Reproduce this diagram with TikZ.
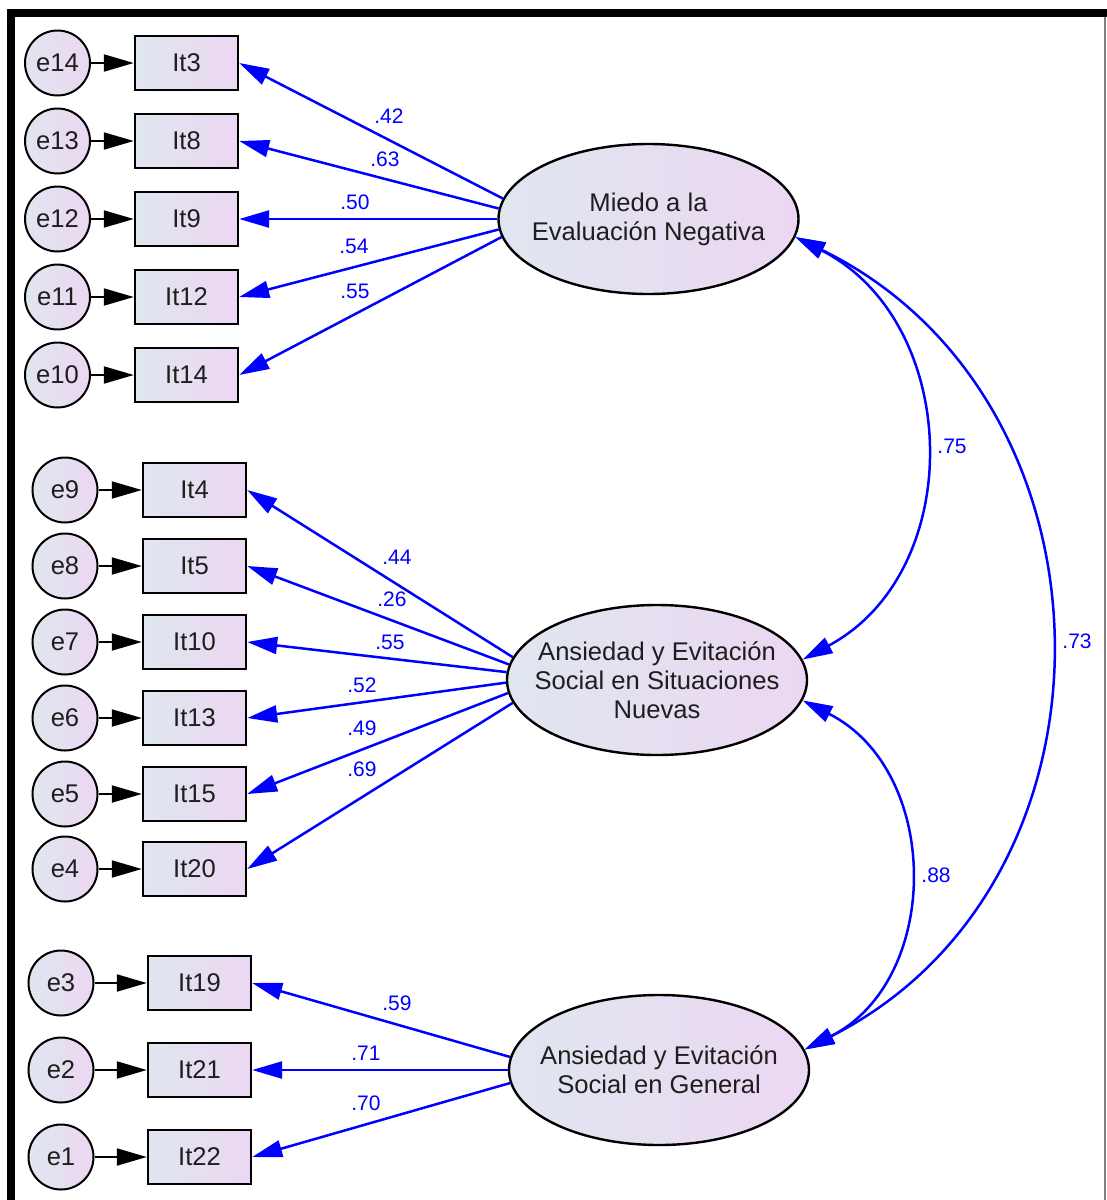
\documentclass[tikz,border=0pt]{standalone}
\usepackage{fontspec}
\setmainfont{Liberation Sans}
\usepackage{tikz}
\usetikzlibrary{arrows.meta,shapes.geometric}
\usepackage{xcolor}
\definecolor{shadeL}{RGB}{224,230,239}
\definecolor{shadeR}{RGB}{236,215,242}
\definecolor{txtgray}{RGB}{30,30,30}

\begin{document}
\begin{tikzpicture}[x=0.5pt, y=-0.5pt,
    obs/.style={draw, line width=1.2pt, left color=shadeL, right color=shadeR,
                minimum width=51.5pt, minimum height=27pt, inner sep=0pt,
                font=\fontsize{12.8}{14}\selectfont, text=txtgray},
    err/.style={draw, circle, line width=1pt, left color=shadeL, right color=shadeR,
                minimum size=32.5pt, inner sep=0pt,
                font=\fontsize{12.8}{14}\selectfont, text=txtgray},
    latent/.style={draw, ellipse, line width=1.2pt, left color=shadeL, right color=shadeR,
                minimum width=150pt, minimum height=75pt, inner sep=0pt},
    lattext/.style={align=center, font=\fontsize{12.8}{14.5}\selectfont, text=txtgray},
    coef/.style={text=blue, font=\fontsize{10.5}{12}\selectfont, inner sep=0pt},
    load/.style={-{Triangle[length=15pt,width=8.5pt]}, blue, line width=1.25pt},
    errarrow/.style={-{Triangle[length=15pt,width=8.5pt]}, black, line width=1pt},
    cov/.style={{Triangle[length=15pt,width=8.5pt]}-{Triangle[length=15pt,width=8.5pt]},
                blue, line width=1.25pt}
  ]
    \useasboundingbox (0,0) rectangle (1107,1200);

    % Frame
    \draw[line width=4pt] (11,1200) -- (11,13) -- (1107,13);
    \draw[gray, line width=0.8pt] (1105,17) -- (1105,1200);

    % Latent factors
    \node[latent] (F1) at (648.5,219) {};
    \node[lattext] (F1t) at (F1) {Miedo a la\\Evaluación Negativa};
    \node[latent] (F2) at (657,680) {};
    \node[lattext] (F2t) at (F2) {Ansiedad y Evitación\\Social en Situaciones\\Nuevas};
    \node[latent] (F3) at (659,1070) {};
    \node[lattext] (F3t) at (F3) {Ansiedad y Evitación\\Social en General};

    % Items, first factor
    \node[obs] (It3) at (186.5,63) {It3};
    \node[obs] (It8) at (186.5,141) {It8};
    \node[obs] (It9) at (186.5,219) {It9};
    \node[obs] (It12) at (186.5,297) {It12};
    \node[obs] (It14) at (186.5,375) {It14};
    \node[err] (e14) at (57.5,63) {e14};
    \node[err] (e13) at (57.5,141) {e13};
    \node[err] (e12) at (57.5,219) {e12};
    \node[err] (e11) at (57.5,297) {e11};
    \node[err] (e10) at (57.5,375) {e10};

    % Items, second factor
    \node[obs] (It4) at (194.5,490) {It4};
    \node[obs] (It5) at (194.5,566) {It5};
    \node[obs] (It10) at (194.5,642) {It10};
    \node[obs] (It13) at (194.5,718) {It13};
    \node[obs] (It15) at (194.5,794) {It15};
    \node[obs] (It20) at (194.5,869) {It20};
    \node[err] (e9) at (65,490) {e9};
    \node[err] (e8) at (65,566) {e8};
    \node[err] (e7) at (65,642) {e7};
    \node[err] (e6) at (65,718) {e6};
    \node[err] (e5) at (65,794) {e5};
    \node[err] (e4) at (65,869) {e4};

    % Items, third factor
    \node[obs] (It19) at (199.5,983) {It19};
    \node[obs] (It21) at (199.5,1070) {It21};
    \node[obs] (It22) at (199.5,1157) {It22};
    \node[err] (e3) at (61,983) {e3};
    \node[err] (e2) at (61,1070) {e2};
    \node[err] (e1) at (61,1157) {e1};

    % Error arrows
    \draw[errarrow] (e14) -- (It3);
    \draw[errarrow] (e13) -- (It8);
    \draw[errarrow] (e12) -- (It9);
    \draw[errarrow] (e11) -- (It12);
    \draw[errarrow] (e10) -- (It14);
    \draw[errarrow] (e9) -- (It4);
    \draw[errarrow] (e8) -- (It5);
    \draw[errarrow] (e7) -- (It10);
    \draw[errarrow] (e6) -- (It13);
    \draw[errarrow] (e5) -- (It15);
    \draw[errarrow] (e4) -- (It20);
    \draw[errarrow] (e3) -- (It19);
    \draw[errarrow] (e2) -- (It21);
    \draw[errarrow] (e1) -- (It22);

    % Loadings
    \draw[load] (F1.172.5) -- (It3.east);
    \draw[load] (F1.176) -- (It8.east);
    \draw[load] (F1.180) -- (It9.east);
    \draw[load] (F1.184) -- (It12.east);
    \draw[load] (F1.187.5) -- (It14.east);
    \draw[load] (F2.171) -- (It4.east);
    \draw[load] (F2.174) -- (It5.east);
    \draw[load] (F2.177) -- (It10.east);
    \draw[load] (F2.181) -- (It13.east);
    \draw[load] (F2.185) -- (It15.east);
    \draw[load] (F2.189) -- (It20.east);
    \draw[load] (F3.175) -- (It19.east);
    \draw[load] (F3.180) -- (It21.east);
    \draw[load] (F3.185) -- (It22.east);

    \node[coef] (c3) at (389,116) {.42};
    \node[coef] (c8) at (385,159) {.63};
    \node[coef] (c9) at (355,202) {.50};
    \node[coef] (c12) at (354,246) {.54};
    \node[coef] (c14) at (355,291) {.55};
    \node[coef] (c4) at (397,557) {.44};
    \node[coef] (c5) at (392,599) {.26};
    \node[coef] (c10) at (390,642) {.55};
    \node[coef] (c13) at (362,685) {.52};
    \node[coef] (c15) at (362,728) {.49};
    \node[coef] (c20) at (362,769) {.69};
    \node[coef] (c19) at (397,1003) {.59};
    \node[coef] (c21) at (366,1053) {.71};
    \node[coef] (c22) at (366,1103) {.70};

    % Covariances
    \draw[cov] (F1.-7.4) .. controls (962,322) and (968,571) .. (F2.8);
    \draw[cov] (F2.-8) .. controls (942,771) and (942,980) .. (F3.8);
    \draw[cov] (F1.-7.4) .. controls (1127,399) and (1135,883) .. (F3.8);

    \node[coef] (r12) at (952,446) {.75};
    \node[coef] (r23) at (936,875) {.88};
    \node[coef] (r13) at (1077,641) {.73};
  \end{tikzpicture}
\end{document}
